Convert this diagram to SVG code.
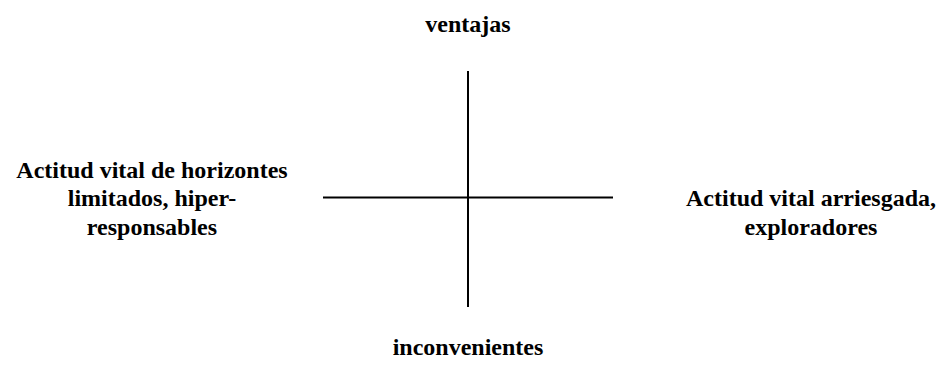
<svg xmlns="http://www.w3.org/2000/svg" width="944" height="377" viewBox="0 0 944 377">
<style>
text{font-family:"Liberation Serif","Times New Roman",serif;font-weight:bold;font-size:24px;fill:#000;text-anchor:middle}
.ax{stroke:#000;stroke-width:2;fill:none}
</style>
<rect width="944" height="377" fill="#fff"/>
<g id="connectors">
<line class="ax" x1="468" y1="71" x2="468" y2="307"/>
<line class="ax" x1="323" y1="197.5" x2="613" y2="197.5"/>
</g>
<g id="top"><text x="468" y="32">ventajas</text></g>
<g id="left"><text x="152" y="178">Actitud vital de horizontes</text><text x="152" y="206">limitados, hiper-</text><text x="152" y="235">responsables</text></g>
<g id="right"><text x="811" y="206">Actitud vital arriesgada,</text><text x="811" y="235">exploradores</text></g>
<g id="bottom"><text x="468" y="355">inconvenientes</text></g>
</svg>
